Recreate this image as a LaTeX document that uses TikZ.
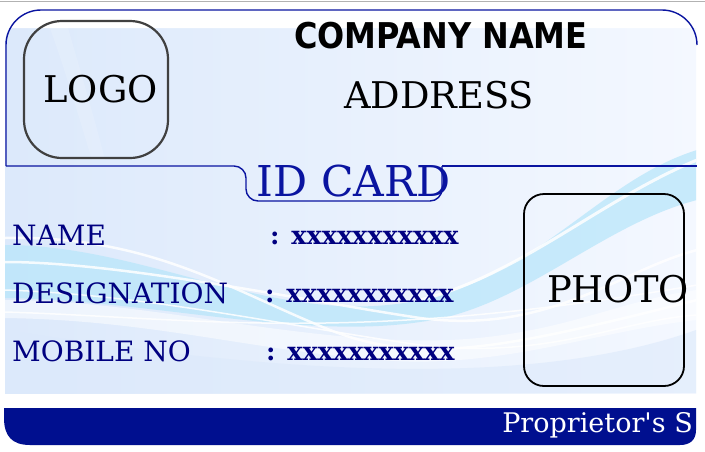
\documentclass[tikz,border=0pt]{standalone}
\usepackage{fontspec}
\setmainfont{DejaVu Serif}
\newfontfamily\propfont{DejaVu Serif}[Ligatures=ResetAll]
\IfFontExistsTF{DejaVu Sans Condensed}{\newfontfamily\compfont{DejaVu Sans Condensed}}{\newfontfamily\compfont{DejaVu Sans}[FakeStretch=0.87]}
\definecolor{bandblue}{RGB}{0,15,143}
\definecolor{lineblue}{RGB}{10,20,160}
\definecolor{labelblue}{RGB}{0,0,128}
\definecolor{bgleft}{RGB}{220,233,251}
\definecolor{bgright}{RGB}{244,248,255}
\definecolor{wavecyan}{RGB}{185,230,250}
\definecolor{logogray}{RGB}{64,64,64}
\tikzset{
  outline/.style={draw=lineblue,line width=1.4pt},
  labeltext/.style={anchor=base west,inner sep=0pt,text=labelblue,font=\fontsize{28}{31}\selectfont},
  valuetext/.style={anchor=base west,inner sep=0pt,text=labelblue,font=\fontsize{25.5}{28}\selectfont\bfseries},
  bigtext/.style={anchor=base,inner sep=0pt,font=\fontsize{36.8}{40}\selectfont},
  wave/.style={white,line width=2.5pt,opacity=0.85},
}
\begin{document}
\begin{tikzpicture}[x=1pt,y=-1pt]
\useasboundingbox (0,0) rectangle (705,451);
\fill[white] (0,0) rectangle (705,451);
\draw[gray!60,line width=1pt] (0,1) -- (705,1);
% background picture
\begin{scope}
  \clip (5,28) rectangle (696,393);
  \shade[left color=bgleft,right color=bgright] (5,28) rectangle (696,393);
  \fill[bgleft,opacity=0.6] (5,330) .. controls (200,360) and (500,400) .. (696,330) -- (696,393) -- (5,393) -- cycle;
  \fill[wavecyan,opacity=0.75] (5,245) .. controls (150,245) and (280,330) .. (420,300)
     .. controls (540,275) and (600,180) .. (697,150) -- (697,200)
     .. controls (600,225) and (520,310) .. (420,322)
     .. controls (300,340) and (150,300) .. (5,298) -- cycle;
  \fill[white,opacity=0.5] (5,300) .. controls (150,300) and (300,345) .. (450,340)
     .. controls (560,335) and (620,300) .. (697,290) -- (697,320)
     .. controls (600,330) and (500,370) .. (380,360)
     .. controls (250,350) and (150,320) .. (5,318) -- cycle;
  \draw[wave] (5,238) .. controls (150,235) and (230,290) .. (330,330) .. controls (420,365) and (500,350) .. (697,300);
  \draw[wave] (5,262) .. controls (120,262) and (300,300) .. (420,318) .. controls (550,335) and (620,270) .. (697,250);
  \draw[wave,line width=1.5pt] (5,290) .. controls (150,295) and (280,325) .. (420,345) .. controls (550,360) and (620,320) .. (697,315);
  \draw[wave,line width=3pt] (420,300) .. controls (520,275) and (600,200) .. (697,160);
  \draw[wave,line width=1.5pt] (5,312) .. controls (200,318) and (350,345) .. (697,285);
  \fill[white,opacity=0.15] (50,28) .. controls (65,70) and (80,120) .. (92,160) -- (105,160) .. controls (95,120) and (80,70) .. (68,28) -- cycle;
\end{scope}
% white top area inside card
\fill[white] (40,10) -- (697,10) -- (697,28) -- (5,28) -- (5,45) .. controls (5,25) and (20,10) .. (40,10) -- cycle;
% card outline
\coordinate (tl) at (6,166);
\coordinate (tr) at (697,45);
\draw[outline,rounded corners=35] (tl) -- (6,10) -- (697,10) -- (tr);
\draw[outline,rounded corners=12] (tl) -- (246,166) -- (246,201) -- (442,201) -- (442,166);
\draw[outline] (442,166) -- (697,166);
% logo and photo boxes
\node[draw=logogray,line width=2.2pt,rounded corners=38,minimum width=144pt,minimum height=137pt,inner sep=0pt] (logo) at (96,89.5) {};
\node[bigtext] (logotext) at (100.5,102) {LOGO};
\node[draw=black,line width=1.8pt,rounded corners=20,minimum width=160pt,minimum height=192pt,inner sep=0pt] (photo) at (604,290) {};
\node[bigtext] (phototext) at (618,302) {PHOTO};
% header texts
\node[anchor=base,inner sep=0pt,font=\fontsize{35.5}{39}\selectfont\compfont\bfseries] (company) at (441,48) {COMPANY NAME};
\node[bigtext] (address) at (439,108) {ADDRESS};
\node[anchor=base,inner sep=0pt,text=lineblue,font=\fontsize{42.5}{46}\selectfont] (idcard) at (353.5,196) {ID CARD};
% fields
\node[labeltext] (name) at (12,245) {NAME};
\node[labeltext] (desig) at (12,303) {DESIGNATION};
\node[labeltext] (mobile) at (12,361) {MOBILE NO};
\node[valuetext] (namev) at (270,244) {: xxxxxxxxxxx};
\node[valuetext] (desigv) at (265,302) {: xxxxxxxxxxx};
\node[valuetext] (mobilev) at (266,360) {: xxxxxxxxxxx};
% bottom band
\fill[bandblue] (4,408) -- (696,408) -- (696,430) .. controls (696,440) and (690,445) .. (680,445)
   -- (30,445) .. controls (12,445) and (4,436) .. (4,418) -- cycle;
\begin{scope}
  \clip (4,408) rectangle (694,445);
  \node[anchor=base east,inner sep=0pt,text=white,font=\fontsize{27}{30}\selectfont\propfont] (prop) at (693,432) {Proprietor's S};
\end{scope}
\end{tikzpicture}
\end{document}
